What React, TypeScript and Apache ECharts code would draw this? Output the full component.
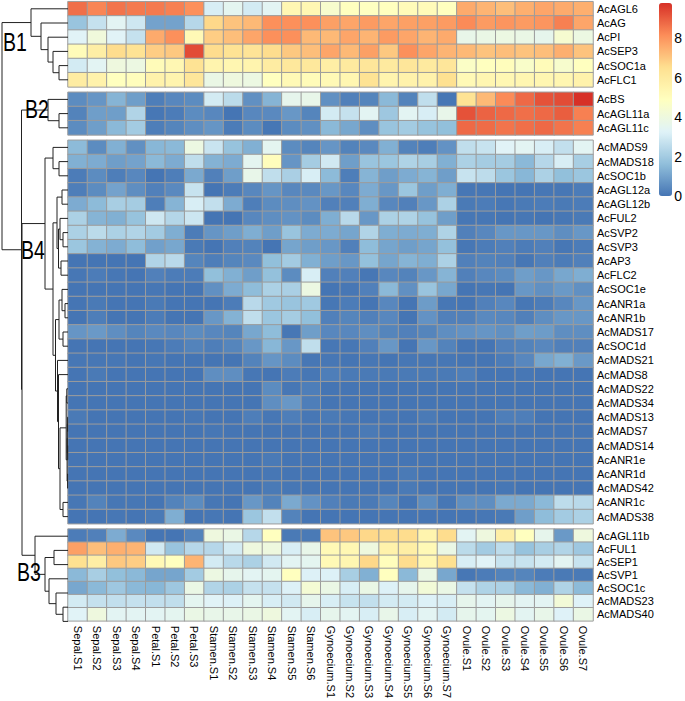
import React, { useEffect, useRef } from "react";
import * as echarts from "echarts";

const columns = [
  "Sepal.S1", "Sepal.S2", "Sepal.S3", "Sepal.S4",
  "Petal.S1", "Petal.S2", "Petal.S3",
  "Stamen.S1", "Stamen.S2", "Stamen.S3", "Stamen.S4", "Stamen.S5", "Stamen.S6",
  "Gynoecium.S1", "Gynoecium.S2", "Gynoecium.S3", "Gynoecium.S4", "Gynoecium.S5", "Gynoecium.S6", "Gynoecium.S7",
  "Ovule.S1", "Ovule.S2", "Ovule.S3", "Ovule.S4", "Ovule.S5", "Ovule.S6", "Ovule.S7",
];

const rowsB1 = ["AcAGL6", "AcAG", "AcPI", "AcSEP3", "AcSOC1a", "AcFLC1"];
const valuesB1 = [
  [8.7, 8.3, 8.6, 8.5, 8.5, 8.4, 8.1, 3.1, 3.5, 3.0, 3.4, 5.3, 5.3, 4.5, 4.9, 4.85, 4.9, 5.1, 5.1, 4.9, 7.6, 7.4, 7.2, 7.5, 7.7, 7.6, 7.5],
  [1.8, 2.7, 3.4, 2.9, 1.0, 1.0, 2.4, 6.7, 7.1, 7.3, 8.1, 8.1, 8.1, 7.8, 7.7, 7.9, 7.7, 7.8, 7.8, 7.9, 8.2, 7.9, 8.0, 7.9, 8.0, 8.4, 7.7],
  [3.3, 4.1, 3.3, 2.7, 7.6, 8.1, 5.2, 6.9, 7.2, 7.7, 8.1, 8.1, 7.3, 7.3, 7.7, 7.4, 7.9, 7.7, 7.4, 7.6, 3.7, 3.8, 3.9, 3.8, 3.6, 4.4, 3.9],
  [5.1, 5.8, 6.6, 6.4, 6.9, 7.0, 9.3, 6.6, 6.4, 6.3, 6.6, 7.0, 7.2, 7.7, 7.3, 7.8, 7.0, 8.1, 7.7, 7.4, 7.3, 7.1, 7.2, 7.1, 7.2, 7.5, 7.1],
  [3.0, 3.4, 4.0, 3.9, 5.1, 5.3, 6.4, 5.5, 5.4, 5.5, 5.9, 6.1, 6.1, 5.8, 6.0, 6.2, 6.0, 6.2, 6.0, 6.2, 4.7, 4.9, 5.0, 4.6, 5.1, 4.5, 4.9],
  [5.9, 5.6, 4.9, 5.0, 5.6, 5.5, 6.2, 3.8, 4.0, 3.9, 4.9, 5.2, 5.1, 5.2, 5.4, 6.4, 5.5, 5.6, 5.6, 6.5, 5.2, 5.4, 5.3, 5.4, 5.4, 5.4, 5.6],
];

const rowsB2 = ["AcBS", "AcAGL11a", "AcAGL11c"];
const valuesB2 = [
  [0.5, 0.7, 1.4, 0.9, 0.2, 0.4, 0.5, 3.0, 2.5, 0.6, 1.4, 3.6, 3.7, 0.6, 0.25, 0.35, 1.5, 0.3, 2.6, 0.05, 6.4, 7.3, 8.2, 8.8, 9.2, 9.3, 9.8],
  [0.3, 0.9, 0.9, 2.3, 0.05, 0.15, 0.5, 0.4, 0.0, 0.4, 0.45, 0.75, 0.35, 3.0, 2.7, 3.4, 1.9, 3.4, 3.1, 3.7, 9.2, 8.9, 8.8, 8.7, 8.8, 9.0, 8.4],
  [0.5, 0.9, 1.5, 2.0, 0.2, 0.35, 0.55, 0.7, 0.15, 0.5, 0.05, 0.5, 0.6, 1.5, 1.1, 0.55, 1.8, 2.0, 1.75, 1.65, 8.8, 8.75, 8.6, 8.7, 8.8, 8.6, 8.4],
];

const rowsB4 = [
  "AcMADS9", "AcMADS18", "AcSOC1b", "AcAGL12a", "AcAGL12b", "AcFUL2", "AcSVP2", "AcSVP3", "AcAP3",
  "AcFLC2", "AcSOC1e", "AcANR1a", "AcANR1b", "AcMADS17", "AcSOC1d", "AcMADS21", "AcMADS8", "AcMADS22",
  "AcMADS34", "AcMADS13", "AcMADS7", "AcMADS14", "AcANR1e", "AcANR1d", "AcMADS42", "AcANR1c", "AcMADS38",
];
const valuesB4 = [
  [1.55, 0.5, 1.3, 0.6, 1.45, 1.5, 3.9, 2.8, 1.75, 1.3, 3.5, 0.5, 0.35, 0.7, 0.3, 0.45, 1.3, 0.3, 0.2, 0.65, 2.6, 2.75, 3.3, 3.4, 3.1, 2.65, 3.4],
  [1.3, 1.2, 0.9, 1.0, 1.5, 1.2, 2.6, 1.35, 1.2, 3.5, 5.0, 0.7, 2.05, 2.95, 0.9, 1.8, 1.85, 2.25, 2.1, 1.3, 2.2, 2.05, 2.05, 1.5, 2.4, 3.1, 2.1],
  [0.15, 0.5, 0.2, 0.4, 0.0, 0.2, 1.15, 0.25, 0.9, 3.7, 2.6, 2.15, 3.1, 1.55, 0.2, 1.4, 0.9, 1.2, 1.4, 0.9, 2.75, 2.55, 1.85, 1.45, 2.2, 1.65, 1.85],
  [0.2, 0.5, 1.0, 0.55, 0.25, 0.45, 2.75, 0.0, 0.15, 0.4, 0.7, 0.4, 0.45, 0.75, 0.4, 1.2, 0.75, 1.85, 0.9, 1.25, 0.05, 0.05, 0.0, 0.0, 0.05, 0.05, 0.15],
  [1.2, 1.55, 2.1, 2.05, 0.2, 1.4, 3.1, 2.65, 1.2, 0.2, 0.5, 0.55, 0.65, 0.25, 0.25, 1.25, 0.4, 0.25, 0.75, 2.2, 0.1, 0.15, 0.05, 0.1, 0.15, 0.1, 0.15],
  [2.2, 1.4, 1.3, 1.75, 2.9, 2.35, 2.85, 0.0, 0.0, 0.4, 0.55, 0.65, 0.5, 1.25, 2.45, 0.75, 2.2, 2.25, 1.75, 0.9, 0.05, 0.05, 0.0, 0.05, 0.0, 0.05, 0.1],
  [2.2, 2.5, 2.2, 2.3, 2.0, 1.25, 0.15, 0.7, 0.9, 1.25, 0.9, 1.8, 1.2, 1.2, 1.05, 2.3, 1.25, 1.2, 1.25, 2.25, 0.25, 0.4, 0.75, 0.75, 0.75, 0.55, 0.75],
  [1.85, 1.35, 1.2, 1.6, 0.95, 1.1, 0.1, 0.0, 0.25, 0.3, 0.0, 1.05, 0.9, 0.75, 0.25, 1.6, 1.05, 0.9, 1.05, 1.7, 0.05, 0.15, 0.25, 0.15, 0.25, 0.05, 0.15],
  [0.0, 0.0, 0.0, 0.0, 2.3, 2.45, 0.35, 0.2, 0.35, 0.45, 1.65, 2.0, 1.3, 0.9, 0.75, 1.7, 1.05, 1.4, 1.25, 2.2, 0.25, 0.3, 0.25, 0.05, 0.25, 0.15, 0.25],
  [0.05, 0.15, 0.05, 0.0, 0.25, 0.15, 0.15, 1.65, 1.3, 0.9, 1.7, 0.5, 3.1, 0.25, 0.25, 0.05, 0.4, 0.3, 0.75, 1.4, 0.25, 0.4, 0.5, 0.9, 0.75, 1.1, 1.25],
  [0.0, 0.0, 0.0, 0.0, 0.05, 0.0, 0.0, 0.6, 1.2, 1.6, 2.2, 2.15, 3.9, 0.0, 0.05, 0.25, 1.5, 0.6, 1.8, 1.1, 0.0, 0.05, 0.0, 0.75, 0.6, 0.8, 0.6],
  [0.0, 0.1, 0.0, 0.0, 0.1, 0.0, 0.0, 0.0, 0.15, 2.45, 1.95, 1.8, 1.95, 0.05, 0.15, 0.0, 0.4, 0.0, 0.85, 0.05, 0.0, 0.25, 0.4, 0.05, 0.15, 0.4, 0.75],
  [0.0, 0.2, 0.0, 0.0, 0.15, 0.0, 0.0, 0.75, 1.35, 2.6, 1.85, 2.05, 1.65, 0.25, 0.35, 0.25, 0.4, 0.0, 0.65, 0.25, 0.25, 0.45, 0.4, 0.25, 0.55, 0.75, 0.75],
  [0.7, 0.8, 0.55, 0.35, 0.45, 0.4, 0.5, 0.4, 0.35, 1.1, 1.6, 0.05, 0.9, 0.4, 0.4, 0.55, 0.35, 0.25, 0.35, 0.55, 0.65, 0.7, 0.6, 0.9, 0.85, 0.55, 0.55],
  [0.0, 0.0, 0.0, 0.0, 0.05, 0.15, 0.3, 0.2, 0.35, 0.75, 1.45, 0.75, 2.6, 0.05, 0.05, 0.25, 0.75, 0.0, 0.75, 0.3, 0.0, 0.0, 0.25, 0.3, 0.4, 0.25, 0.25],
  [0.05, 0.05, 0.05, 0.0, 0.05, 0.0, 0.0, 0.0, 0.0, 0.3, 0.7, 0.5, 0.05, 0.05, 0.0, 0.05, 0.0, 0.05, 0.05, 0.05, 0.0, 0.0, 0.15, 0.4, 1.1, 1.3, 0.8],
  [0.0, 0.1, 0.0, 0.0, 0.0, 0.0, 0.0, 0.55, 0.55, 0.05, 0.0, 0.15, 0.05, 0.2, 0.1, 0.1, 0.1, 0.1, 0.1, 0.1, 0.2, 0.0, 0.0, 0.05, 0.0, 0.0, 0.0],
  [0.0, 0.0, 0.0, 0.0, 0.0, 0.0, 0.0, 0.0, 0.0, 0.0, 0.5, 0.05, 0.2, 0.0, 0.0, 0.0, 0.0, 0.0, 0.0, 0.0, 0.0, 0.0, 0.0, 0.0, 0.0, 0.0, 0.0],
  [0.0, 0.0, 0.0, 0.0, 0.0, 0.0, 0.0, 0.0, 0.0, 0.0, 0.55, 0.75, 0.2, 0.0, 0.0, 0.0, 0.0, 0.0, 0.0, 0.0, 0.0, 0.0, 0.0, 0.0, 0.0, 0.0, 0.0],
  [0.1, 0.0, 0.0, 0.0, 0.0, 0.0, 0.05, 0.0, 0.0, 0.2, 0.05, 0.2, 0.05, 0.1, 0.05, 0.0, 0.05, 0.0, 0.1, 0.0, 0.0, 0.0, 0.2, 0.2, 0.0, 0.0, 0.0],
  [0.0, 0.0, 0.0, 0.0, 0.0, 0.0, 0.0, 0.05, 0.0, 0.0, 0.0, 0.0, 0.0, 0.0, 0.0, 0.1, 0.0, 0.0, 0.0, 0.0, 0.0, 0.0, 0.0, 0.0, 0.0, 0.0, 0.0],
  [0.0, 0.0, 0.0, 0.0, 0.0, 0.0, 0.0, 0.0, 0.0, 0.0, 0.0, 0.0, 0.0, 0.0, 0.0, 0.0, 0.0, 0.0, 0.0, 0.0, 0.0, 0.0, 0.0, 0.0, 0.0, 0.0, 0.0],
  [0.0, 0.0, 0.0, 0.0, 0.0, 0.0, 0.0, 0.0, 0.0, 0.0, 0.1, 0.0, 0.0, 0.0, 0.0, 0.0, 0.0, 0.0, 0.0, 0.0, 0.0, 0.0, 0.0, 0.0, 0.0, 0.0, 0.0],
  [0.0, 0.0, 0.0, 0.0, 0.0, 0.0, 0.0, 0.0, 0.0, 0.0, 0.05, 0.0, 0.0, 0.0, 0.0, 0.0, 0.0, 0.1, 0.0, 0.0, 0.0, 0.0, 0.0, 0.0, 0.0, 0.0, 0.0],
  [0.0, 0.0, 0.0, 0.0, 0.0, 0.0, 0.0, 0.0, 0.0, 0.0, 0.1, 0.05, 0.0, 0.0, 0.0, 0.0, 0.0, 0.1, 0.0, 0.0, 0.0, 0.0, 0.05, 0.0, 0.0, 0.0, 0.0],
  [0.05, 0.3, 0.05, 0.05, 0.0, 0.3, 0.5, 0.05, 0.0, 0.75, 0.3, 1.15, 0.65, 0.25, 0.1, 0.1, 0.35, 0.0, 0.5, 0.05, 0.55, 0.55, 1.15, 1.15, 1.5, 2.55, 2.45],
  [0.0, 0.0, 0.05, 0.0, 0.1, 1.25, 0.0, 0.05, 0.0, 1.85, 2.65, 0.3, 0.0, 0.0, 0.0, 0.0, 0.0, 0.0, 0.0, 0.0, 0.0, 0.05, 0.1, 0.9, 1.6, 2.0, 2.2],
];

const rowsB3 = ["AcAGL11b", "AcFUL1", "AcSEP1", "AcSVP1", "AcSOC1c", "AcMADS23", "AcMADS40"];
const valuesB3 = [
  [0.15, 0.25, 1.2, 0.45, 0.0, 0.0, 0.3, 4.0, 3.8, 2.4, 4.9, 0.1, 0.1, 7.1, 7.0, 6.7, 6.6, 6.6, 5.5, 6.6, 3.4, 4.0, 5.8, 4.9, 3.6, 0.8, 4.0],
  [7.8, 7.2, 7.5, 7.4, 2.95, 1.8, 2.4, 2.4, 3.0, 4.0, 4.0, 3.1, 3.7, 5.2, 5.3, 4.0, 5.6, 5.8, 5.2, 3.8, 2.5, 2.0, 2.55, 1.75, 2.1, 2.3, 1.9],
  [6.5, 5.8, 7.0, 6.9, 5.2, 4.9, 7.4, 3.0, 2.45, 2.2, 2.95, 3.4, 3.5, 5.2, 5.4, 6.7, 5.0, 6.6, 5.3, 6.5, 3.1, 3.3, 2.75, 2.75, 3.0, 3.45, 2.75],
  [1.5, 2.1, 1.65, 1.5, 1.05, 1.05, 2.0, 3.9, 3.6, 3.4, 3.5, 4.9, 3.2, 3.2, 2.1, 1.3, 4.9, 1.5, 3.8, 1.1, 0.05, 0.15, 0.3, 0.35, 0.15, 0.1, 0.1],
  [1.1, 1.5, 1.9, 1.5, 1.45, 1.9, 3.8, 2.3, 2.2, 2.7, 2.7, 3.2, 4.3, 3.8, 3.1, 3.8, 3.2, 3.6, 4.2, 3.8, 2.7, 2.25, 2.2, 1.5, 1.3, 2.25, 1.55],
  [3.0, 2.7, 2.65, 2.7, 2.65, 2.6, 3.5, 3.3, 3.2, 3.5, 3.1, 2.95, 3.6, 3.1, 2.75, 2.65, 3.0, 3.0, 3.2, 3.1, 3.6, 3.4, 3.6, 3.4, 3.4, 4.2, 3.25],
  [3.3, 4.0, 3.4, 3.4, 3.4, 3.5, 3.8, 3.7, 3.7, 3.8, 4.0, 3.4, 3.1, 3.6, 3.45, 3.1, 3.7, 3.1, 3.4, 3.0, 3.6, 3.5, 3.9, 3.45, 3.7, 3.25, 3.8],
];

// Row clustering: each merge joins two members (row name or earlier merge index) at a height.
const merges: [string | number, string | number, number][] = [
  ["AcSOC1a", "AcFLC1", 9],          // 0
  ["AcSEP3", 0, 15],                 // 1
  ["AcPI", 1, 20],                   // 2
  ["AcAG", 2, 27],                   // 3
  ["AcAGL6", 3, 37],                 // 4  B1
  ["AcAGL11a", "AcAGL11c", 9],       // 5
  ["AcBS", 5, 20],                   // 6  B2
  ["AcMADS18", "AcSOC1b", 9],        // 7
  ["AcMADS9", 7, 15],                // 8
  ["AcAGL12a", "AcAGL12b", 6],       // 9
  ["AcSVP2", "AcSVP3", 5],           // 10
  ["AcFUL2", 10, 8],                 // 11
  ["AcAP3", "AcFLC2", 7],            // 12
  [11, 12, 9.5],                     // 13
  [9, 13, 11],                       // 14
  ["AcANR1a", "AcANR1b", 3],         // 15
  ["AcSOC1e", 15, 6],                // 16
  ["AcMADS17", "AcSOC1d", 5],        // 17
  [16, 17, 9],                       // 18
  ["AcMADS22", "AcMADS34", 1.2],     // 19
  ["AcMADS13", "AcMADS7", 0.4],      // 20
  ["AcMADS14", "AcANR1e", 0.3],      // 21
  ["AcANR1d", "AcMADS42", 0.4],      // 22
  [20, 21, 0.7],                     // 23
  [23, 22, 0.9],                     // 24
  [19, 24, 1.8],                     // 25
  ["AcANR1c", "AcMADS38", 5],        // 26
  [25, 26, 8],                       // 27
  ["AcMADS8", 27, 9.5],              // 28
  ["AcMADS21", 28, 10.5],            // 29
  [18, 29, 12.5],                    // 30
  [14, 30, 15],                      // 31
  [8, 31, 23],                       // 32 B4
  ["AcFUL1", "AcSEP1", 14],          // 33
  ["AcMADS23", "AcMADS40", 5],       // 34
  ["AcSOC1c", 34, 12],               // 35
  ["AcSVP1", 35, 19],                // 36
  [33, 36, 23],                      // 37
  ["AcAGL11b", 37, 33],              // 38 B3
  [32, 38, 46],                      // 39
  [6, 39, 46.5],                     // 40
  [4, 40, 66],                       // 41 root
];

const clusterLabels = ["B1", "B2", "B4", "B3"];

const legendColors = ["#4575B4", "#91BFDB", "#E0F3F8", "#FFFFBF", "#FEE090", "#FC8D59", "#D73027"];
const legendMin = 0;
const legendMax = 9.8;

const FONT = "'Liberation Sans', Arial, Helvetica, sans-serif";

export default function App() {
  const ref = useRef<HTMLDivElement>(null);

  useEffect(() => {
    if (!ref.current) return;
    const chart = echarts.init(ref.current, undefined, { renderer: "svg" });

    const groups = [
      { rows: rowsB1, values: valuesB1 },
      { rows: rowsB2, values: valuesB2 },
      { rows: rowsB4, values: valuesB4 },
      { rows: rowsB3, values: valuesB3 },
    ];
    const top0 = 1.7;
    const rowH = 14.2;
    const gapH = 5.4;
    const heatLeft = 68;
    const heatWidth = 525;

    const tops: number[] = [];
    let t = top0;
    groups.forEach((g) => {
      tops.push(t);
      t += g.rows.length * rowH + gapH;
    });
    const totalH = t - gapH - top0;

    const leafY: Record<string, number> = {};
    groups.forEach((g, gi) => {
      g.rows.forEach((r, i) => {
        leafY[r] = tops[gi] - top0 + (i + 0.5) * rowH;
      });
    });
    const nodeY: number[] = [];
    const nodeH: number[] = [];
    const pos = (m: string | number) =>
      typeof m === "string" ? { y: leafY[m], h: 0 } : { y: nodeY[m], h: nodeH[m] };
    const lineData: any[] = [];
    merges.forEach(([a, b, h], i) => {
      const pa = pos(a);
      const pb = pos(b);
      nodeY[i] = (pa.y + pb.y) / 2;
      nodeH[i] = h;
      lineData.push({
        coords: [
          [pa.h, pa.y],
          [h, pa.y],
          [h, pb.y],
          [pb.h, pb.y],
        ],
      });
    });

    const grids: any[] = groups.map((g, gi) => ({
      left: heatLeft,
      top: tops[gi],
      width: heatWidth,
      height: g.rows.length * rowH,
      containLabel: false,
    }));
    grids.push({ left: 0, top: top0, width: heatLeft, height: totalH });
    const barTop = 3;
    const barH = 193;
    grids.push({ left: 659, top: barTop, width: 13, height: barH });

    const xAxes: any[] = groups.map((g, gi) => ({
      type: "category",
      gridIndex: gi,
      data: columns,
      show: gi === groups.length - 1,
      position: "bottom",
      axisLine: { show: false },
      axisTick: { show: false },
      splitLine: { show: false },
      axisLabel: {
        rotate: -90,
        interval: 0,
        margin: 5,
        fontSize: 11,
        color: "#000",
        fontFamily: FONT,
      },
    }));
    xAxes.push({ type: "value", gridIndex: 4, min: 0, max: heatLeft, inverse: true, show: false });
    xAxes.push({ type: "category", gridIndex: 5, data: [""], show: false });

    const yAxes: any[] = groups.map((g, gi) => ({
      type: "category",
      gridIndex: gi,
      data: g.rows,
      inverse: true,
      position: "right",
      axisLine: { show: false },
      axisTick: { show: false },
      splitLine: { show: false },
      axisLabel: { margin: 4, fontSize: 11, color: "#000", fontFamily: FONT, interval: 0 },
    }));
    yAxes.push({ type: "value", gridIndex: 4, min: 0, max: totalH, inverse: true, show: false });
    yAxes.push({
      type: "value",
      gridIndex: 5,
      min: legendMin,
      max: legendMax,
      interval: 2,
      position: "right",
      axisLine: { show: false },
      axisTick: { show: false },
      splitLine: { show: false },
      axisLabel: {
        margin: 4,
        fontSize: 14,
        color: "#000",
        fontFamily: FONT,
        formatter: (v: number) => (Math.abs(v % 2) < 1e-6 ? String(v) : ""),
      },
    });

    const series: any[] = groups.map((g, gi) => {
      const data: number[][] = [];
      g.values.forEach((row, ri) => row.forEach((v, ci) => data.push([ci, ri, v])));
      return {
        type: "heatmap",
        xAxisIndex: gi,
        yAxisIndex: gi,
        data,
        itemStyle: { borderColor: "#9c9c9c", borderWidth: 1 },
        emphasis: { disabled: true },
      };
    });
    series.push({
      type: "lines",
      coordinateSystem: "cartesian2d",
      xAxisIndex: 4,
      yAxisIndex: 4,
      polyline: true,
      silent: true,
      lineStyle: { color: "#222", width: 1, opacity: 1 },
      data: lineData,
    });

    const labelPos = [
      { x: 3, y: 43 },
      { x: 25, y: 110 },
      { x: 21, y: 251 },
      { x: 17, y: 573 },
    ];
    const graphics = clusterLabels.map((txt, i) => ({
      type: "text",
      left: labelPos[i].x,
      top: labelPos[i].y - 13,
      z: 10,
      scaleX: 0.78,
      style: {
        text: txt,
        fontSize: 25,
        fontFamily: FONT,
        fill: "#000",
      },
    }));

    chart.setOption({
      animation: false,
      backgroundColor: "#fff",
      grid: grids,
      xAxis: xAxes,
      yAxis: yAxes,
      visualMap: {
        type: "continuous",
        min: legendMin,
        max: legendMax,
        seriesIndex: [0, 1, 2, 3],
        inRange: { color: legendColors },
        orient: "vertical",
        left: 659,
        top: barTop,
        itemWidth: 13,
        itemHeight: barH,
        padding: 0,
        calculable: false,
        text: null,
        showLabel: false,
      },
      series,
      graphic: graphics,
    });

    return () => chart.dispose();
  }, []);

  return (
    <div
      ref={ref}
      style={{ position: "fixed", left: 0, top: 0, width: 685, height: 701, background: "#fff" }}
    />
  );
}
